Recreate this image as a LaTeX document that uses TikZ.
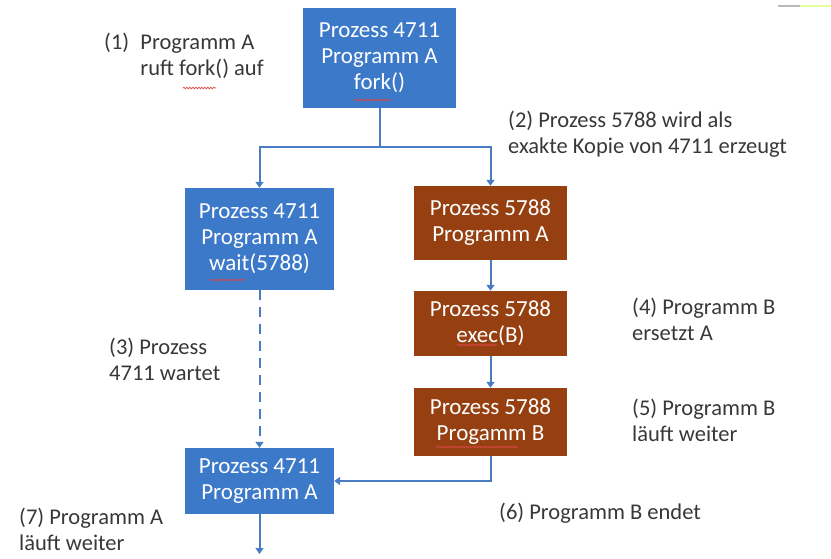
\documentclass[tikz,border=0pt]{standalone}
\usepackage{fontspec}
\setmainfont{Carlito}
\usetikzlibrary{arrows.meta,decorations.pathmorphing}
\definecolor{procblue}{RGB}{60,121,200}
\definecolor{procbrown}{RGB}{150,64,18}
\definecolor{linkblue}{RGB}{74,124,196}
\definecolor{labelgray}{RGB}{56,56,56}
\definecolor{spellred}{RGB}{220,70,70}
\begin{document}
\begin{tikzpicture}[x=1pt,y=-1pt,
  box/.style={inner sep=0pt,align=center,text=white,font=\fontsize{23}{26}\selectfont},
  bluebox/.style={box,fill=procblue},
  brownbox/.style={box,fill=procbrown},
  note/.style={inner sep=0pt,align=left,anchor=north west,text=labelgray,font=\fontsize{22.5}{26}\selectfont},
  link/.style={draw=linkblue,line width=2pt},
  arr/.style={link,-{Triangle[width=8pt,length=6pt]}},
  spell/.style={draw=spellred,line width=0.7pt,decorate,decoration={snake,amplitude=0.8pt,segment length=3pt}}]
\useasboundingbox (0,0) rectangle (831,558);

% process boxes
\node[bluebox,minimum width=153pt,minimum height=100pt] (top) at (379.5,58) {Prozess 4711\\Programm A\\fork()};
\node[bluebox,minimum width=149pt,minimum height=102pt] (wait) at (259.5,239) {Prozess 4711\\Programm A\\wait(5788)};
\node[brownbox,minimum width=153pt,minimum height=74pt] (copy) at (490.5,223) {Prozess 5788\\Programm A};
\node[brownbox,minimum width=153pt,minimum height=65pt] (exec) at (490.5,323.5) {Prozess 5788\\exec(B)};
\node[brownbox,minimum width=153pt,minimum height=68pt] (progb) at (490.5,422) {Prozess 5788\\Progamm B};
\node[bluebox,minimum width=149pt,minimum height=66pt] (resume) at (259.5,481) {Prozess 4711\\Programm A};

% connectors
\coordinate (split) at (379.5,147);
\coordinate (cont) at (259.5,554);
\draw[link] (top.south) -- (split);
\draw[arr] (split) -| (wait.north);
\draw[arr] (split) -| (copy.north);
\draw[arr] (copy.south) -- (exec.north);
\draw[arr] (exec.south) -- (progb.north);
\draw[arr] (progb.south) |- (resume.east);
\draw[arr,dash pattern=on 10pt off 7pt] (wait.south) -- (resume.north);
\draw[arr] (resume.south) -- (cont);

% step notes
\node[note] (n1) at (104,33) {(1)\enspace Programm A\\\phantom{(1)\enspace }ruft fork() auf};
\node[note] (n2) at (508,111) {(2) Prozess 5788 wird als\\exakte Kopie von 4711 erzeugt};
\node[note] (n3) at (109,338) {(3) Prozess\\4711 wartet};
\node[note] (n4) at (632,298) {(4) Programm B\\ersetzt A};
\node[note] (n5) at (632,399) {(5) Programm B\\läuft weiter};
\node[note] (n6) at (499,503) {(6) Programm B endet};
\node[note] (n7) at (19,508) {(7) Programm A\\läuft weiter};

% spell-check marks
\draw[spell] (354,100) -- (391,100);
\draw[spell] (183,88) -- (216,88);
\draw[spell] (210,280) -- (245,280);
\draw[spell] (457,345) -- (497,345);
\draw[spell] (436,447) -- (518,447);

% window edge
\draw[gray!55,line width=2pt] (778,6) -- (800,6);
\draw[green!25!yellow!40,line width=2pt] (800,6) -- (831,6);
\end{tikzpicture}
\end{document}
